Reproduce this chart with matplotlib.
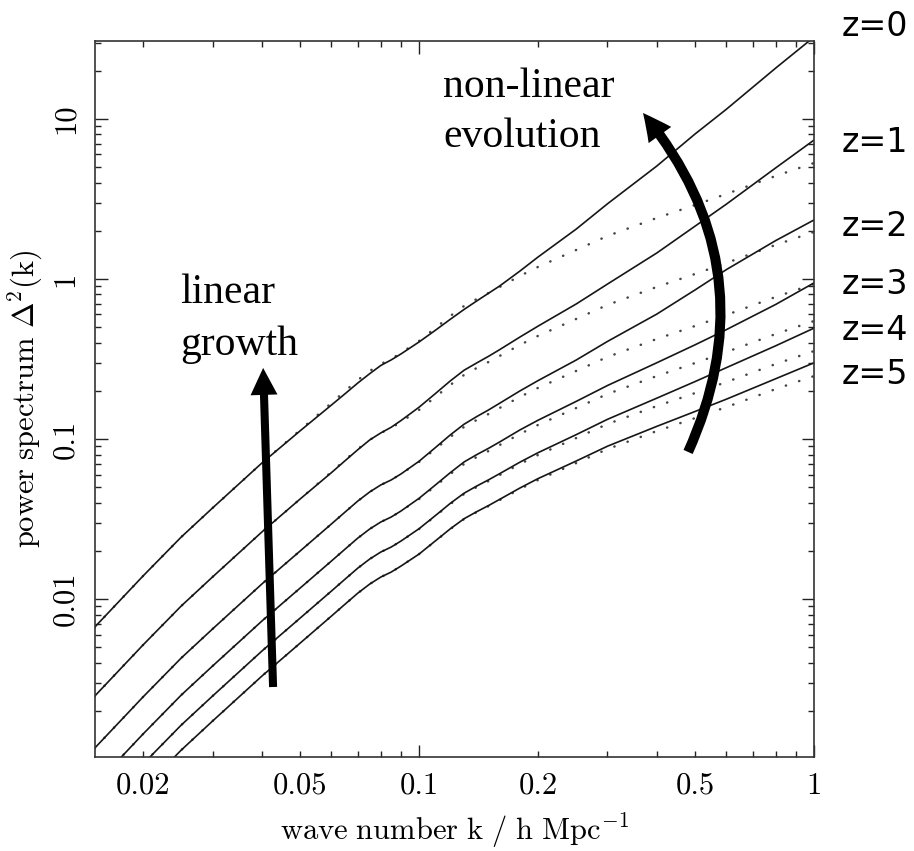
import numpy as np
import matplotlib
matplotlib.use("Agg")
import matplotlib.pyplot as plt
from matplotlib.patches import ArrowStyle
from matplotlib.ticker import FixedLocator, FixedFormatter, LogLocator, NullFormatter

plt.rcParams['mathtext.fontset'] = 'cm'
plt.rcParams['font.family'] = 'serif'
plt.rcParams['font.serif'] = ['cmr10', 'DejaVu Serif']
plt.rcParams['axes.unicode_minus'] = False

# wave number k [h/Mpc]
k = [0.0151, 0.02, 0.025, 0.03, 0.04, 0.05, 0.06, 0.065, 0.07, 0.075, 0.08, 0.085, 0.09, 0.1,
     0.11, 0.12, 0.13, 0.14, 0.15, 0.16, 0.18, 0.2, 0.25, 0.3, 0.4, 0.5, 0.6, 0.8, 1.0]

# non-linear power spectrum (solid), z = 0..5
nl_z0 = [0.00668, 0.01392, 0.02441, 0.03705, 0.07079, 0.1125, 0.163, 0.192, 0.224, 0.256, 0.288, 0.312, 0.340, 0.404,
         0.478, 0.560, 0.645, 0.729, 0.815, 0.904, 1.12, 1.37, 2.05, 2.95, 5.08, 8.06, 11.5, 20.8, 32.5]
nl_z1 = [0.002476, 0.00516, 0.009049, 0.013735, 0.026242, 0.042186, 0.06162, 0.07322, 0.08577, 0.098643, 0.109097,
         0.11839, 0.13037, 0.15795, 0.19228, 0.23074, 0.26893, 0.29884, 0.32881, 0.36179, 0.43345, 0.50688,
         0.69778, 0.92933, 1.4538, 2.13931, 2.93496, 4.94666, 7.38019]
nl_z2 = [0.0011717, 0.0024416, 0.0042815, 0.0064986, 0.0124166, 0.0199605, 0.0294497, 0.0349923, 0.040991,
         0.0466739, 0.0516202, 0.0554615, 0.0604779, 0.07258, 0.08838, 0.10608, 0.12368, 0.13811, 0.15199,
         0.16728, 0.1996, 0.23149, 0.31152, 0.40715, 0.60348, 0.85455, 1.14434, 1.73804, 2.33731]
nl_z3 = [0.000687, 0.001432, 0.002512, 0.003812, 0.007284, 0.01171, 0.017277, 0.020529, 0.024048, 0.027382,
         0.030283, 0.032537, 0.03548, 0.04258, 0.0516, 0.06163, 0.07186, 0.07987, 0.08749, 0.09584, 0.11387,
         0.13091, 0.17182, 0.21593, 0.29957, 0.38793, 0.48252, 0.69335, 0.94509]
nl_z4 = [0.000446, 0.00093, 0.001631, 0.002475, 0.004729, 0.007602, 0.011216, 0.013327, 0.015611, 0.017775,
         0.019659, 0.021122, 0.023033, 0.0275, 0.03323, 0.03962, 0.04583, 0.05084, 0.05559, 0.06073, 0.07162,
         0.08205, 0.10647, 0.13273, 0.18001, 0.22859, 0.27919, 0.38244, 0.49295]
nl_z5 = [0.000311, 0.000649, 0.001138, 0.001727, 0.003299, 0.005303, 0.007824, 0.009297, 0.01089, 0.0124,
         0.013714, 0.014735, 0.016068, 0.019092, 0.02309, 0.02747, 0.03175, 0.03515, 0.0384, 0.04195, 0.04938,
         0.05652, 0.07286, 0.09017, 0.11997, 0.14865, 0.17735, 0.23806, 0.29935]

# linear power spectrum (dotted), z = 0..5
lin_z0 = [0.00668, 0.01392, 0.02441, 0.03705, 0.07079, 0.1138, 0.1679, 0.1995, 0.2337, 0.2661, 0.2943, 0.3162,
          0.3448, 0.4097, 0.494, 0.5872, 0.678, 0.7499, 0.8175, 0.8913, 1.044, 1.189, 1.518, 1.857, 2.406, 2.9,
          3.398, 4.404, 5.309]
lin_z1 = [0.002476, 0.00516, 0.009049, 0.013735, 0.026242, 0.042186, 0.062241, 0.073955, 0.086633, 0.098643,
          0.109097, 0.117215, 0.127817, 0.151876, 0.183126, 0.217675, 0.251335, 0.277988, 0.303047, 0.330405,
          0.387011, 0.440762, 0.562723, 0.68839, 0.891904, 1.07503, 1.25964, 1.63256, 1.96805]
lin_z2 = [0.0011717, 0.0024416, 0.0042815, 0.0064986, 0.0124166, 0.0199605, 0.0294497, 0.0349923, 0.040991,
          0.0466739, 0.0516202, 0.0554615, 0.0604779, 0.0718614, 0.0866476, 0.1029949, 0.1189212, 0.1315325,
          0.1433895, 0.156334, 0.1831176, 0.2085506, 0.2662572, 0.3257178, 0.4220124, 0.50866, 0.5960092,
          0.7724616, 0.9311986]
lin_z3 = [0.000687, 0.001432, 0.002512, 0.003812, 0.007284, 0.01171, 0.017277, 0.020529, 0.024048, 0.027382,
          0.030283, 0.032537, 0.03548, 0.042158, 0.050833, 0.060423, 0.069766, 0.077165, 0.084121, 0.091715,
          0.107428, 0.122348, 0.156202, 0.191085, 0.247577, 0.29841, 0.349654, 0.453172, 0.546296]
lin_z4 = [0.000446, 0.00093, 0.001631, 0.002475, 0.004729, 0.007602, 0.011216, 0.013327, 0.015611, 0.017775,
          0.019659, 0.021122, 0.023033, 0.027368, 0.032999, 0.039225, 0.04529, 0.050093, 0.054609, 0.059539,
          0.069739, 0.079425, 0.101402, 0.124048, 0.160721, 0.19372, 0.226986, 0.294187, 0.354641]
lin_z5 = [0.000311, 0.000649, 0.001138, 0.001727, 0.003299, 0.005303, 0.007824, 0.009297, 0.01089, 0.0124,
          0.013714, 0.014735, 0.016068, 0.019092, 0.02302, 0.027364, 0.031595, 0.034945, 0.038096, 0.041535,
          0.04865, 0.055407, 0.070739, 0.086536, 0.11212, 0.13514, 0.158347, 0.205226, 0.247399]

nonlinear = [nl_z0, nl_z1, nl_z2, nl_z3, nl_z4, nl_z5]
linear = [lin_z0, lin_z1, lin_z2, lin_z3, lin_z4, lin_z5]

z_labels = ['z=0', 'z=1', 'z=2', 'z=3', 'z=4', 'z=5']
z_label_ypix = [26, 142, 226, 284, 331, 374]   # label rows, figure pixels from top

xtick_vals = [0.02, 0.05, 0.1, 0.2, 0.5, 1]
xtick_labels = ['0.02', '0.05', '0.1', '0.2', '0.5', '1']
ytick_vals = [0.01, 0.1, 1, 10]
ytick_labels = ['0.01', '0.1', '1', '10']

W, H = 914, 851
fig = plt.figure(figsize=(W / 100, H / 100), dpi=100)
ax = fig.add_axes([95 / W, (H - 757) / H, 719 / W, 716 / H])

for lin in linear:
    ax.plot(k, lin, color='#444444', lw=1.8, ls=(0, (0.1, 5.5)), dash_capstyle='round')
for nl in nonlinear:
    ax.plot(k, nl, color='#161616', lw=1.2)

ax.set_xscale('log')
ax.set_yscale('log')
ax.set_xlim(0.01512, 1.0)
ax.set_ylim(0.00103, 30.7)

ax.xaxis.set_major_locator(FixedLocator(xtick_vals))
ax.xaxis.set_major_formatter(FixedFormatter(xtick_labels))
ax.xaxis.set_minor_locator(LogLocator(base=10, subs=np.arange(2, 10), numticks=20))
ax.xaxis.set_minor_formatter(NullFormatter())
ax.yaxis.set_major_locator(FixedLocator(ytick_vals))
ax.yaxis.set_major_formatter(FixedFormatter(ytick_labels))
ax.yaxis.set_minor_locator(LogLocator(base=10, subs=np.arange(2, 10), numticks=20))
ax.yaxis.set_minor_formatter(NullFormatter())

ax.tick_params(which='both', direction='in', top=True, right=True, width=1.0, color='#222222')
ax.tick_params(which='major', length=9)
ax.tick_params(which='minor', length=4.5)
ax.tick_params(axis='both', labelsize=22, pad=11)
ax.tick_params(axis='y', labelrotation=90)
for lbl in ax.get_yticklabels():
    lbl.set_va('center')

# only decades get long ticks on x
for t, v in zip(ax.xaxis.get_major_ticks(), xtick_vals):
    if v not in (0.1, 1):
        t.tick1line.set_markersize(4.5)
        t.tick2line.set_markersize(4.5)

for sp in ax.spines.values():
    sp.set_linewidth(1.2)
    sp.set_color('#333333')

ax.set_xlabel(r'$\mathrm{wave\ number\ k\ /\ h\ Mpc^{-1}}$', fontsize=22)
ax.set_ylabel(r'$\mathrm{power\ spectrum\ \Delta^2(k)}$', fontsize=22)
ax.xaxis.set_label_coords(0.5, -0.077)
ax.yaxis.set_label_coords(-0.07, 0.5)

# annotations
txt = dict(fontsize=30, family='Liberation Serif', va='baseline', color='black')
fig.text(443 / W, 1 - 97 / H, 'non-linear', **txt)
fig.text(443 / W, 1 - 147 / H, 'evolution', **txt)
fig.text(180 / W, 1 - 303 / H, 'linear', **txt)
fig.text(180 / W, 1 - 355 / H, 'growth', **txt)

for lab, yp in zip(z_labels, z_label_ypix):
    fig.text(842 / W, 1 - yp / H, lab, fontsize=24, family='DejaVu Sans', va='center', color='black')

ax.annotate('', xy=(0.0403, 0.278), xytext=(0.0427, 0.00282), annotation_clip=False,
            arrowprops=dict(arrowstyle=ArrowStyle.Simple(head_length=19.4, head_width=19.4, tail_width=5.8),
                            mutation_scale=1, fc='black', lw=0, shrinkA=0, shrinkB=0))
ax.annotate('', xy=(0.369, 10.9), xytext=(0.480, 0.083), annotation_clip=False,
            arrowprops=dict(arrowstyle=ArrowStyle.Simple(head_length=20, head_width=20, tail_width=7.2),
                            mutation_scale=1, fc='black', lw=0, shrinkA=0, shrinkB=0,
                            connectionstyle='arc3,rad=0.31'))

fig.savefig('out.png', dpi=100)
